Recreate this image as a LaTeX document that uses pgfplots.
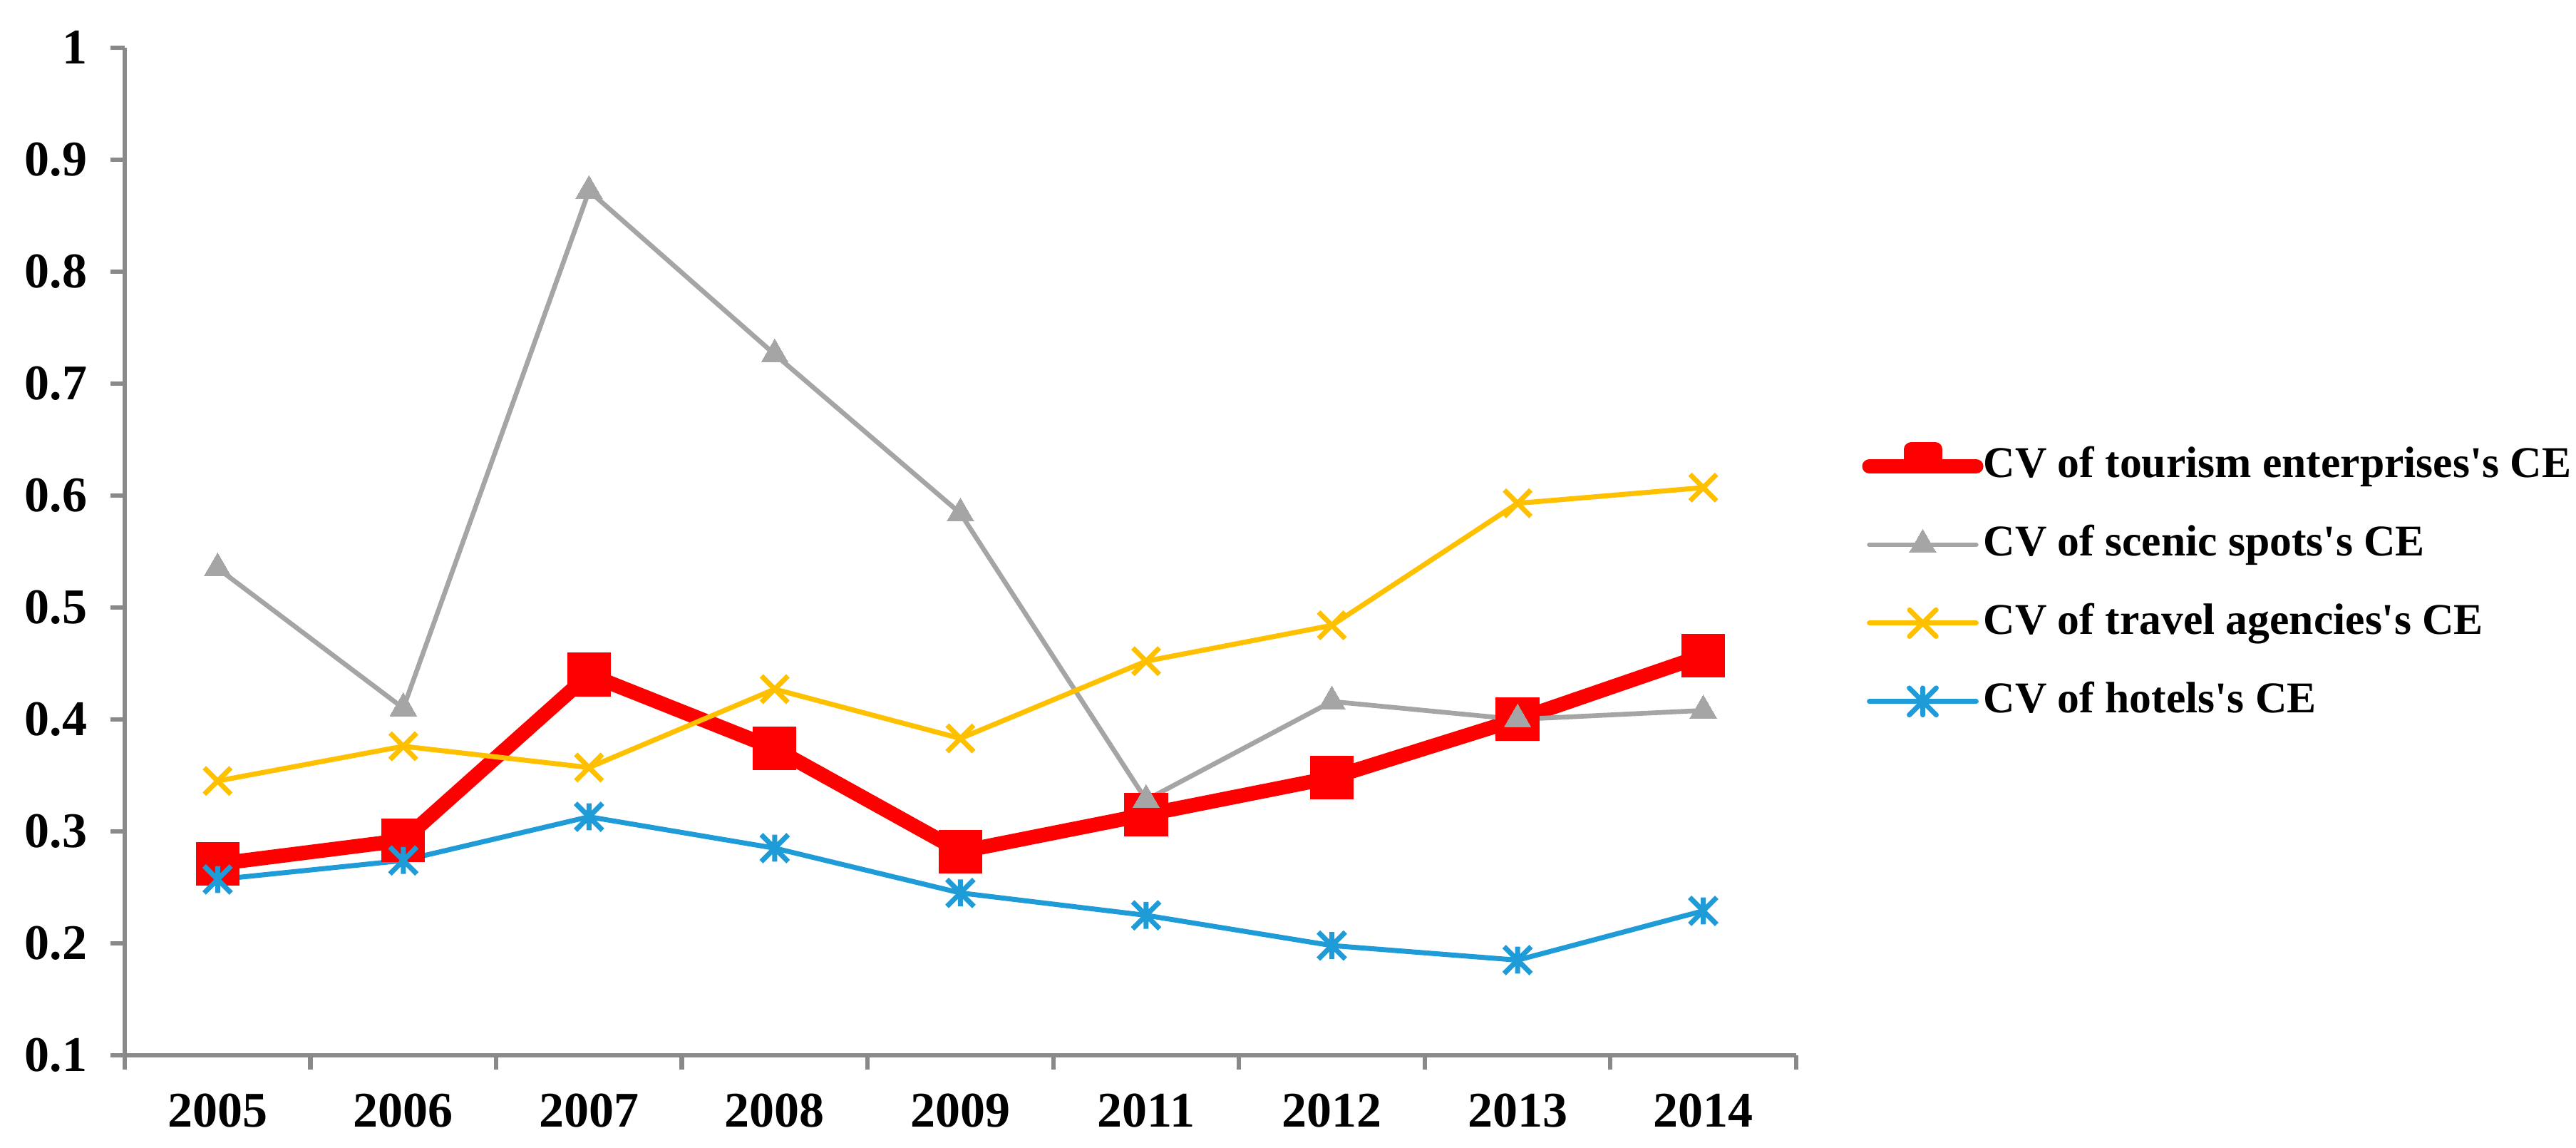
\documentclass[border=0pt]{standalone}
\usepackage{fontspec}
\setmainfont{Liberation Serif}
\usepackage{pgfplots}
\pgfplotsset{compat=1.18}
\definecolor{cvred}{HTML}{FF0000}
\definecolor{cvgray}{HTML}{A5A5A5}
\definecolor{cvyellow}{HTML}{FFC000}
\definecolor{cvblue}{HTML}{1F9BD7}
\definecolor{axisgray}{HTML}{898989}
\pgfdeclareplotmark{xstar}{%
  \pgfpathmoveto{\pgfqpoint{0pt}{\pgfplotmarksize}}%
  \pgfpathlineto{\pgfqpoint{0pt}{-\pgfplotmarksize}}%
  \pgfpathmoveto{\pgfqpoint{-\pgfplotmarksize}{-\pgfplotmarksize}}%
  \pgfpathlineto{\pgfqpoint{\pgfplotmarksize}{\pgfplotmarksize}}%
  \pgfpathmoveto{\pgfqpoint{-\pgfplotmarksize}{\pgfplotmarksize}}%
  \pgfpathlineto{\pgfqpoint{\pgfplotmarksize}{-\pgfplotmarksize}}%
  \pgfusepathqstroke}
\pgfdeclareplotmark{bigx}{%
  \pgfpathmoveto{\pgfqpoint{-\pgfplotmarksize}{-\pgfplotmarksize}}%
  \pgfpathlineto{\pgfqpoint{\pgfplotmarksize}{\pgfplotmarksize}}%
  \pgfpathmoveto{\pgfqpoint{-\pgfplotmarksize}{\pgfplotmarksize}}%
  \pgfpathlineto{\pgfqpoint{\pgfplotmarksize}{-\pgfplotmarksize}}%
  \pgfusepathqstroke}
\newcommand{\q}{\textquotesingle}
\begin{document}
\begin{tikzpicture}
\begin{axis}[
  at={(25pt,18.57pt)}, anchor=south west,
  scale only axis, width=335pt, height=201.9pt,
  xmin=-0.5, xmax=8.5, ymin=0.1, ymax=1,
  axis lines*=left,
  axis line style={draw=axisgray, line width=0.9pt},
  xtick={0,1,2,3,4,5,6,7,8},
  xticklabels={2005,2006,2007,2008,2009,2011,2012,2013,2014},
  minor xtick={-0.5,0.5,1.5,2.5,3.5,4.5,5.5,6.5,7.5,8.5},
  ytick={0.1,0.2,0.3,0.4,0.5,0.6,0.7,0.8,0.9,1},
  tick align=outside,
  major tick length=2.9pt, minor tick length=2.8pt,
  tick style={draw=axisgray, line width=0.9pt},
  major x tick style={draw=none},
  /pgf/number format/assume math mode=true,
  ticklabel style={font=\fontsize{10}{12}\selectfont\bfseries},
  xticklabel style={yshift=-1.3pt},
  yticklabel style={xshift=-1.1pt},
  clip=false,
  legend cell align=left,
  legend style={draw=none, fill=none, inner sep=0pt, outer sep=0pt,
    at={(rel axis cs:1.0395,0.468)}, anchor=west,
    font=\fontsize{8.8}{11}\selectfont\bfseries,
    row sep=6.2pt, column sep=0pt,
    nodes={inner xsep=0pt, inner ysep=0.5pt, text height=6.5pt, text depth=2pt}},
  legend image code/.code={%
    \draw[mark repeat=2,mark phase=2,line cap=round,#1] plot coordinates {(0pt,0pt)(10.7pt,0pt)(21.4pt,0pt)};},
]
\addplot[cvred, line width=2.9pt, line join=round,
  mark=square*, mark size=4.3pt, mark options={line width=0pt, fill=cvred},
  legend image code/.code={%
    \draw[cvred, line width=2.9pt, line cap=round] (0pt,0pt) -- (21.4pt,0pt);
    \fill[cvred] (8.4pt,0pt) rectangle (13.2pt,3.4pt);}]
  coordinates {(0,0.271)(1,0.292)(2,0.440)(3,0.374)(4,0.282)(5,0.315)(6,0.348)(7,0.400)(8,0.457)};
\addlegendentry{CV of tourism enterprises\q s CE}
\addplot[cvgray, line width=0.95pt, line join=round,
  mark=triangle*, mark size=3.1pt, mark options={line width=0pt, fill=cvgray}]
  coordinates {(0,0.535)(1,0.410)(2,0.872)(3,0.726)(4,0.584)(5,0.328)(6,0.416)(7,0.400)(8,0.408)};
\addlegendentry{CV of scenic spots\q s CE}
\addplot[cvyellow, line width=1pt, line join=round,
  mark=bigx, mark size=2.65pt]
  coordinates {(0,0.345)(1,0.376)(2,0.357)(3,0.427)(4,0.383)(5,0.452)(6,0.484)(7,0.593)(8,0.607)};
\addlegendentry{CV of travel agencies\q s CE}
\addplot[cvblue, line width=1pt, line join=round,
  mark=xstar, mark size=2.7pt]
  coordinates {(0,0.257)(1,0.274)(2,0.313)(3,0.285)(4,0.245)(5,0.225)(6,0.198)(7,0.185)(8,0.229)};
\addlegendentry{CV of hotels\q s CE}
\end{axis}
\pgfresetboundingbox
\path[use as bounding box] (0,0) rectangle (516.3pt,230pt);
\end{tikzpicture}
\end{document}
